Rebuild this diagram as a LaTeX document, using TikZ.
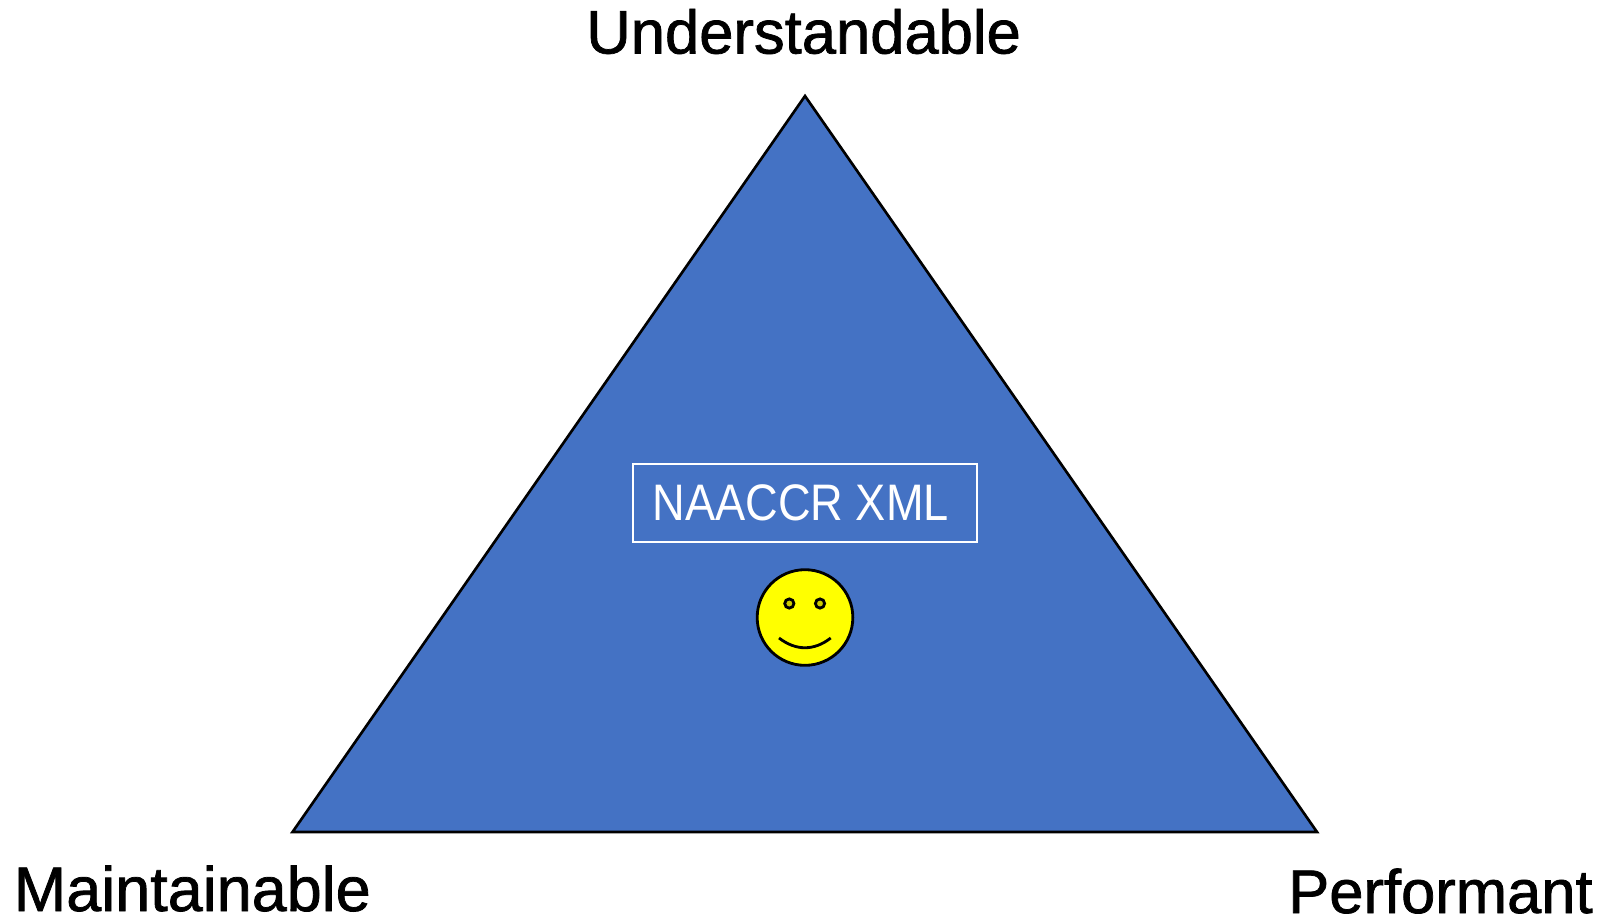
\documentclass[tikz,border=0pt]{standalone}
\usepackage{fontspec}
\setmainfont{Liberation Sans}
\newfontfamily\labelfont[FakeBold=1.2]{Liberation Sans}
\newfontfamily\namefont[FakeStretch=0.88]{Liberation Sans}
\definecolor{triblue}{HTML}{4472C4}
\definecolor{eyeyellow}{HTML}{CDCD00}
\definecolor{faceyellow}{HTML}{FFFF00}
\tikzset{
  corner/.style={font=\labelfont\fontsize{17.5}{20}\selectfont, anchor=base, inner sep=0pt},
  face/.style={draw=black, line width=0.8pt, fill=faceyellow},
}
\begin{document}
\begin{tikzpicture}[x=0.01cm, y=-0.01cm]
\useasboundingbox (0,0) rectangle (1604,918);
% triangle
\coordinate (top) at (805,96);
\coordinate (left) at (292.5,832);
\coordinate (right) at (1317,832);
\draw[line width=0.75pt, fill=triblue, line join=miter] (top) -- (right) -- (left) -- cycle;
% labels
\node[corner] (under) at (803.6,53.5) {Understandable};
\node[corner, font=\labelfont\fontsize{17.9}{20}\selectfont] (maintain) at (192.3,911) {Maintainable};
\node[corner] (perform) at (1440.4,913) {Performant};
% box
\node[draw=white, line width=0.55pt, minimum width=98pt, minimum height=22pt, inner sep=0pt,
      text=white, font=\namefont\fontsize{14.6}{18}\selectfont] (name) at (805,503) {\hspace*{-2.4pt}NAACCR XML};
% smiley
\node[face, circle, minimum size=27.2pt, inner sep=0pt] (smiley) at (805,617.5) {};
\foreach \x in {789.3, 820}
    \draw[line width=0.8pt, fill=eyeyellow] (\x,603.5) circle (4.6);
\draw[line width=0.8pt] (779,638) .. controls (796,651) and (814,651) .. (830.7,638);
\end{tikzpicture}
\end{document}
